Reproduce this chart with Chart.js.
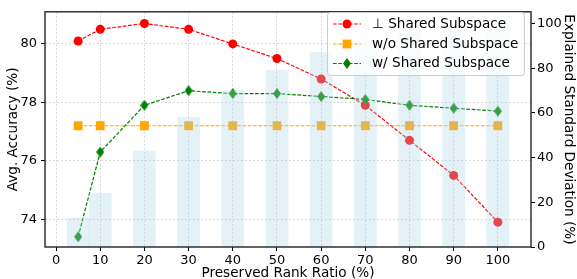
<!DOCTYPE html>
<html>
<head>
<meta charset="utf-8">
<script src="https://cdn.jsdelivr.net/npm/chart.js@4.4.1/dist/chart.umd.min.js"></script>
<style>
  html, body { margin: 0; padding: 0; background: #fff; }
  #wrap { width: 577px; height: 279px; position: relative; }
</style>
</head>
<body>
<div id="wrap"><canvas id="chart"></canvas></div>
<script>
const ratios = [5, 10, 20, 30, 40, 50, 60, 70, 80, 90, 100];
const orthSharedAcc = [80.1, 80.5, 80.7, 80.5, 80.0, 79.5, 78.8, 77.9, 76.7, 75.5, 73.9];
const noSharedAcc = [77.2, 77.2, 77.2, 77.2, 77.2, 77.2, 77.2, 77.2, 77.2, 77.2, 77.2];
const withSharedAcc = [73.4, 76.3, 77.9, 78.4, 78.3, 78.3, 78.2, 78.1, 77.9, 77.8, 77.7];
const explainedStd = [13, 24, 43, 58, 70, 79, 87, 92, 98, 99, 100];

const xTicks = [0, 10, 20, 30, 40, 50, 60, 70, 80, 90, 100];
const accTicks = [74, 76, 78, 80];
const stdTicks = [0, 20, 40, 60, 80, 100];

const seriesLabels = ['\u22A5 Shared Subspace', 'w/o Shared Subspace', 'w/ Shared Subspace'];

const FONT = 'DejaVu Sans';

const pairs = ys => ratios.map((x, i) => ({ x, y: ys[i] }));

// thin diamond marker like matplotlib 'd'
function thinDiamond(color, w, h) {
  const c = document.createElement('canvas');
  c.width = w; c.height = h;
  const g = c.getContext('2d');
  g.fillStyle = color;
  g.beginPath();
  g.moveTo(w / 2, 0);
  g.lineTo(w, h / 2);
  g.lineTo(w / 2, h);
  g.lineTo(0, h / 2);
  g.closePath();
  g.fill();
  return c;
}
const diamond = thinDiamond('green', 8, 11);

const dash = [3.7, 1.6];

const frame = {
  id: 'frame',
  afterDatasetsDraw(chart) {
    const { ctx, chartArea: a } = chart;
    ctx.save();
    ctx.strokeStyle = '#222';
    ctx.lineWidth = 1.4;
    ctx.strokeRect(a.left, a.top, a.right - a.left, a.bottom - a.top);
    ctx.restore();
  }
};

function drawMarker(ctx, ds, x, y) {
  ctx.save();
  ctx.fillStyle = ds.pointBackgroundColor;
  if (ds.pointStyle === 'circle') {
    ctx.beginPath();
    ctx.arc(x, y, ds.pointRadius, 0, Math.PI * 2);
    ctx.fill();
  } else if (ds.pointStyle === 'rect') {
    const s = ds.pointRadius * Math.SQRT1_2;
    ctx.fillRect(x - s, y - s, 2 * s, 2 * s);
  } else {
    const img = ds.pointStyle;
    ctx.drawImage(img, x - img.width / 2, y - img.height / 2);
  }
  ctx.restore();
}

const insideLegend = {
  id: 'insideLegend',
  afterDraw(chart) {
    const { ctx } = chart;
    const bx = 327.5, by = 12.5, bw = 197, bh = 63;
    ctx.save();
    ctx.beginPath();
    ctx.roundRect(bx, by, bw, bh, 3);
    ctx.fillStyle = 'rgba(255,255,255,0.8)';
    ctx.fill();
    ctx.strokeStyle = '#cccccc';
    ctx.lineWidth = 1;
    ctx.stroke();
    const rows = [24, 44, 63.5];
    chart.data.datasets.filter(d => d.type === 'line').forEach((ds, i) => {
      const y = rows[i];
      ctx.save();
      ctx.strokeStyle = ds.borderColor;
      ctx.lineWidth = ds.borderWidth;
      ctx.setLineDash(dash);
      ctx.beginPath();
      ctx.moveTo(333, y);
      ctx.lineTo(361, y);
      ctx.stroke();
      ctx.restore();
      drawMarker(ctx, ds, 347, y);
      ctx.fillStyle = '#000';
      ctx.font = '13.6px "' + FONT + '"';
      ctx.textBaseline = 'middle';
      ctx.textAlign = 'left';
      ctx.fillText(ds.label, 372, y);
    });
    ctx.restore();
  }
};

const ctx = document.getElementById('chart').getContext('2d');
new Chart(ctx, {
  data: {
    datasets: [
      {
        type: 'line',
        label: seriesLabels[0],
        data: pairs(orthSharedAcc),
        yAxisID: 'yAcc',
        borderColor: 'red',
        backgroundColor: 'red',
        pointBackgroundColor: 'red',
        pointBorderWidth: 0,
        pointStyle: 'circle',
        pointRadius: 4.5,
        borderWidth: 1.2,
        borderDash: dash,
        order: 3
      },
      {
        type: 'line',
        label: seriesLabels[1],
        data: pairs(noSharedAcc),
        yAxisID: 'yAcc',
        borderColor: 'orange',
        backgroundColor: 'orange',
        pointBackgroundColor: 'orange',
        pointBorderWidth: 0,
        pointStyle: 'rect',
        pointRadius: 6.2,
        borderWidth: 1.2,
        borderDash: dash,
        order: 2
      },
      {
        type: 'line',
        label: seriesLabels[2],
        data: pairs(withSharedAcc),
        yAxisID: 'yAcc',
        borderColor: 'green',
        backgroundColor: 'green',
        pointBackgroundColor: 'green',
        pointBorderWidth: 0,
        pointStyle: diamond,
        pointRadius: 5,
        borderWidth: 1.2,
        borderDash: dash,
        order: 1
      },
      {
        type: 'bar',
        label: 'Explained Standard Deviation',
        data: pairs(explainedStd),
        yAxisID: 'yStd',
        backgroundColor: 'rgba(173,216,230,0.33)',
        borderWidth: 0,
        barPercentage: 1,
        categoryPercentage: 1,
        order: 0
      }
    ]
  },
  options: {
    responsive: true,
    maintainAspectRatio: false,
    devicePixelRatio: 1,
    animation: false,
    layout: { padding: { top: 5, left: 0, right: 0, bottom: 0 } },
    plugins: {
      legend: { display: false },
      tooltip: { enabled: false }
    },
    scales: {
      x: {
        type: 'linear',
        position: 'bottom',
        offset: false,
        min: -2.5,
        max: 107.5,
        afterBuildTicks: s => { s.ticks = xTicks.map(v => ({ value: v })); },
        afterFit: s => { s.height = 32; s.paddingLeft = 0; s.paddingRight = 0; },
        grid: { offset: false, color: 'rgba(180,180,180,0.65)', lineWidth: 0.8, tickLength: 4, tickColor: '#000', tickWidth: 1 },
        border: { display: false, dash: [2, 2] },
        ticks: { color: '#000', padding: 2, font: { family: FONT, size: 13 }, maxRotation: 0 },
        title: { display: true, text: 'Preserved Rank Ratio (%)', color: '#000', padding: { top: 0, bottom: -1 }, font: { family: FONT, size: 13.6, lineHeight: 1 } }
      },
      yAcc: {
        type: 'linear',
        position: 'left',
        min: 73.05,
        max: 81.1,
        afterBuildTicks: s => { s.ticks = accTicks.map(v => ({ value: v })); },
        afterFit: s => { s.width = 45; },
        grid: { color: 'rgba(180,180,180,0.65)', lineWidth: 0.8, tickLength: 4, tickColor: '#000', tickWidth: 1 },
        border: { display: false, dash: [2, 2] },
        ticks: { color: '#000', padding: 4, font: { family: FONT, size: 13 } },
        title: { display: true, text: 'Avg. Accuracy (%)', color: '#000', padding: { top: 7, bottom: 0 }, font: { family: FONT, size: 13.6, lineHeight: 1 } }
      },
      yStd: {
        type: 'linear',
        position: 'right',
        min: 0,
        max: 105.2,
        afterBuildTicks: s => { s.ticks = stdTicks.map(v => ({ value: v })); },
        afterFit: s => { s.width = 46; },
        grid: { drawOnChartArea: false, tickLength: 4, tickColor: '#000', tickWidth: 1 },
        border: { display: false },
        ticks: { color: '#000', padding: 2, font: { family: FONT, size: 13 } },
        title: { display: true, text: 'Explained Standard Deviation (%)', color: '#000', padding: { top: 1.5, bottom: 0 }, font: { family: FONT, size: 13.6, lineHeight: 1 } }
      }
    }
  },
  plugins: [frame, insideLegend]
});
</script>
</body>
</html>
